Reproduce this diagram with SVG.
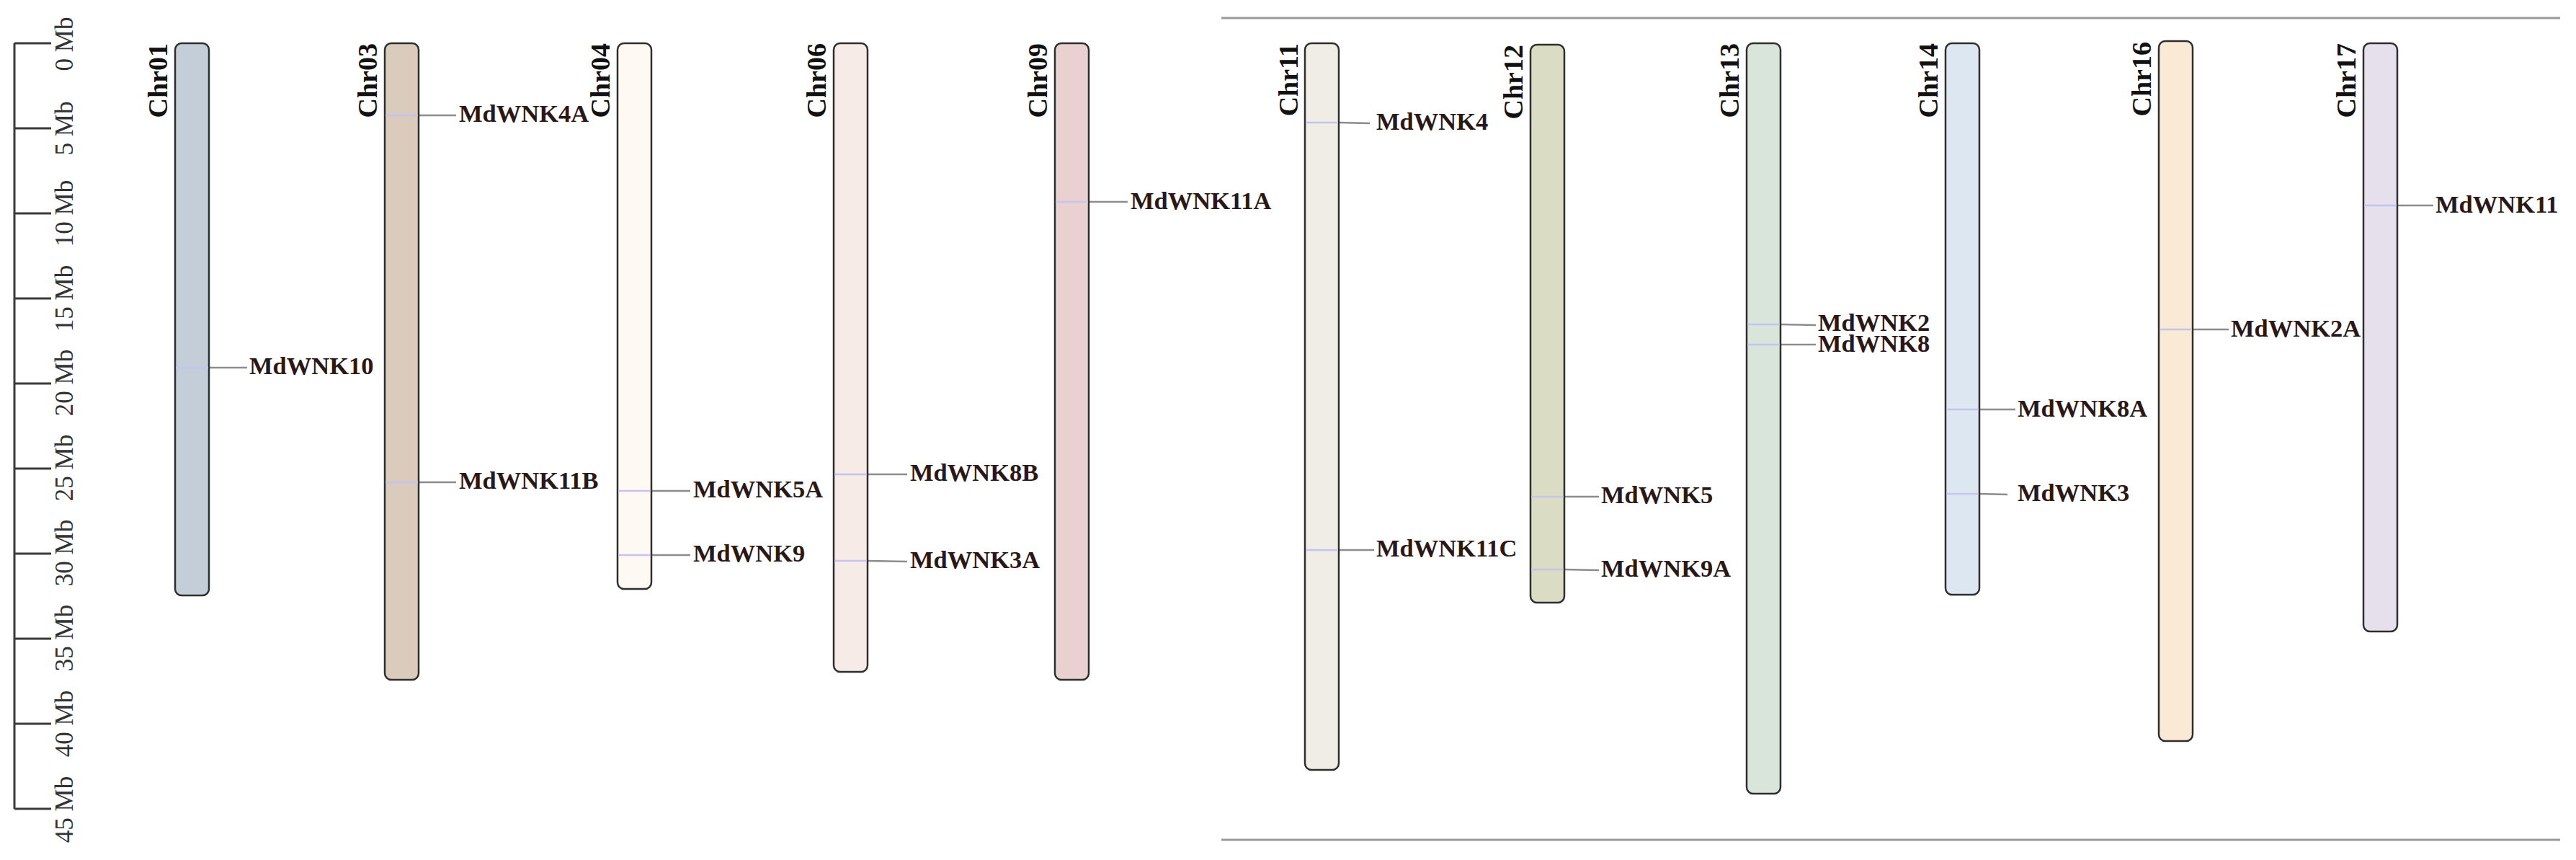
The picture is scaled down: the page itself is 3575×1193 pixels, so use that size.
<svg xmlns="http://www.w3.org/2000/svg" width="3575" height="1193" viewBox="0 0 3575 1193">
<style>
.chr{stroke:#2e2e2e;stroke-width:2.5}
.mk{stroke:#c4c4ee;stroke-width:2.5}
.cn{stroke:#8c8c8c;stroke-width:2.5;fill:none}
.gl{font-family:"Liberation Serif","Times New Roman",serif;font-weight:bold;font-size:34.5px;fill:#2a1818}
.cl{font-family:"Liberation Serif","Times New Roman",serif;font-weight:bold;font-size:38px;fill:#111;text-anchor:end}
.rl{font-family:"Liberation Serif","Times New Roman",serif;font-size:35px;fill:#333;text-anchor:middle}
.rk{stroke:#3a3a3a;stroke-width:3;fill:none}
.sep{stroke:#9a9a9a;stroke-width:3}
</style>
<rect width="3575" height="1193" fill="#fff"/>
<g id="separators">
<line class="sep" x1="1695" y1="25" x2="3553" y2="25"/>
<line class="sep" x1="1695" y1="1165" x2="3553" y2="1165"/>
</g>
<g id="ruler">
<path class="rk" d="M20,60 V1122 M20,60 H71 M20,178 H71 M20,296 H71 M20,414 H71 M20,532 H71 M20,650 H71 M20,768 H71 M20,886 H71 M20,1004 H71 M20,1122 H71"/>
<text class="rl" transform="translate(101,61) rotate(-90)">0 Mb</text>
<text class="rl" transform="translate(101,178) rotate(-90)">5 Mb</text>
<text class="rl" transform="translate(101,296) rotate(-90)">10 Mb</text>
<text class="rl" transform="translate(101,414) rotate(-90)">15 Mb</text>
<text class="rl" transform="translate(101,531) rotate(-90)">20 Mb</text>
<text class="rl" transform="translate(101,649) rotate(-90)">25 Mb</text>
<text class="rl" transform="translate(101,767) rotate(-90)">30 Mb</text>
<text class="rl" transform="translate(101,885) rotate(-90)">35 Mb</text>
<text class="rl" transform="translate(101,1004) rotate(-90)">40 Mb</text>
<text class="rl" transform="translate(101,1123) rotate(-90)">45 Mb</text>
</g>
<g id="connectors">
<line class="cn" x1="290" y1="510" x2="343" y2="510"/>
<line class="cn" x1="581" y1="160" x2="633" y2="160"/>
<line class="cn" x1="581" y1="669" x2="633" y2="669"/>
<line class="cn" x1="904" y1="681" x2="958" y2="681"/>
<line class="cn" x1="904" y1="770" x2="958" y2="770"/>
<line class="cn" x1="1204" y1="658" x2="1259" y2="658"/>
<line class="cn" x1="1204" y1="778" x2="1259" y2="779"/>
<line class="cn" x1="1511" y1="280" x2="1565" y2="280"/>
<line class="cn" x1="1858" y1="170" x2="1901" y2="171"/>
<line class="cn" x1="1858" y1="763" x2="1907" y2="763"/>
<line class="cn" x1="2171" y1="689" x2="2219" y2="689"/>
<line class="cn" x1="2171" y1="790" x2="2219" y2="791"/>
<line class="cn" x1="2471" y1="450" x2="2520" y2="451"/>
<line class="cn" x1="2471" y1="478" x2="2520" y2="478"/>
<line class="cn" x1="2747" y1="568" x2="2797" y2="568"/>
<line class="cn" x1="2747" y1="685" x2="2786" y2="686"/>
<line class="cn" x1="3043" y1="457" x2="3093" y2="457"/>
<line class="cn" x1="3328" y1="285" x2="3377" y2="285"/>
</g>
<g id="chr01">
<rect class="chr" x="243" y="60" width="47" height="766" rx="9" fill="#c4ced9"/>
<line class="mk" x1="244" y1="510" x2="289" y2="510"/>
<text class="cl" transform="translate(232,60) rotate(-90)">Chr01</text>
<text class="gl" x="346" y="519">MdWNK10</text>
</g>
<g id="chr03">
<rect class="chr" x="534" y="60" width="47" height="883" rx="9" fill="#dacbbd"/>
<line class="mk" x1="535" y1="160" x2="580" y2="160"/>
<line class="mk" x1="535" y1="669" x2="580" y2="669"/>
<text class="cl" transform="translate(523,60) rotate(-90)">Chr03</text>
<text class="gl" x="637" y="169">MdWNK4A</text>
<text class="gl" x="637" y="678">MdWNK11B</text>
</g>
<g id="chr04">
<rect class="chr" x="857" y="60" width="47" height="757" rx="9" fill="#fefaf3"/>
<line class="mk" x1="858" y1="681" x2="903" y2="681"/>
<line class="mk" x1="858" y1="770" x2="903" y2="770"/>
<text class="cl" transform="translate(846,60) rotate(-90)">Chr04</text>
<text class="gl" x="962" y="690">MdWNK5A</text>
<text class="gl" x="962" y="779">MdWNK9</text>
</g>
<g id="chr06">
<rect class="chr" x="1157" y="60" width="47" height="872" rx="9" fill="#f7ebe7"/>
<line class="mk" x1="1158" y1="658" x2="1203" y2="658"/>
<line class="mk" x1="1158" y1="778" x2="1203" y2="778"/>
<text class="cl" transform="translate(1146,60) rotate(-90)">Chr06</text>
<text class="gl" x="1263" y="667">MdWNK8B</text>
<text class="gl" x="1263" y="788">MdWNK3A</text>
</g>
<g id="chr09">
<rect class="chr" x="1464" y="60" width="47" height="883" rx="9" fill="#e9d0d1"/>
<line class="mk" x1="1465" y1="280" x2="1510" y2="280"/>
<text class="cl" transform="translate(1453,60) rotate(-90)">Chr09</text>
<text class="gl" x="1569" y="290">MdWNK11A</text>
</g>
<g id="chr11">
<rect class="chr" x="1811" y="60" width="47" height="1008" rx="9" fill="#f0ece6"/>
<line class="mk" x1="1812" y1="170" x2="1857" y2="170"/>
<line class="mk" x1="1812" y1="763" x2="1857" y2="763"/>
<text class="cl" transform="translate(1801,60) rotate(-90)">Chr11</text>
<text class="gl" x="1910" y="180">MdWNK4</text>
<text class="gl" x="1910" y="772">MdWNK11C</text>
</g>
<g id="chr12">
<rect class="chr" x="2124" y="62" width="47" height="774" rx="9" fill="#dadcc4"/>
<line class="mk" x1="2125" y1="689" x2="2170" y2="689"/>
<line class="mk" x1="2125" y1="790" x2="2170" y2="790"/>
<text class="cl" transform="translate(2113,62) rotate(-90)">Chr12</text>
<text class="gl" x="2222" y="698">MdWNK5</text>
<text class="gl" x="2222" y="800">MdWNK9A</text>
</g>
<g id="chr13">
<rect class="chr" x="2424" y="60" width="47" height="1041" rx="9" fill="#d9e4da"/>
<line class="mk" x1="2425" y1="450" x2="2470" y2="450"/>
<line class="mk" x1="2425" y1="478" x2="2470" y2="478"/>
<text class="cl" transform="translate(2413,60) rotate(-90)">Chr13</text>
<text class="gl" x="2523" y="459">MdWNK2</text>
<text class="gl" x="2523" y="488">MdWNK8</text>
</g>
<g id="chr14">
<rect class="chr" x="2700" y="60" width="47" height="765" rx="9" fill="#dce7f1"/>
<line class="mk" x1="2701" y1="568" x2="2746" y2="568"/>
<line class="mk" x1="2701" y1="685" x2="2746" y2="685"/>
<text class="cl" transform="translate(2689,60) rotate(-90)">Chr14</text>
<text class="gl" x="2800" y="578">MdWNK8A</text>
<text class="gl" x="2800" y="695">MdWNK3</text>
</g>
<g id="chr16">
<rect class="chr" x="2996" y="57" width="47" height="971" rx="9" fill="#faead5"/>
<line class="mk" x1="2997" y1="457" x2="3042" y2="457"/>
<text class="cl" transform="translate(2985,58) rotate(-90)">Chr16</text>
<text class="gl" x="3096" y="467">MdWNK2A</text>
</g>
<g id="chr17">
<rect class="chr" x="3280" y="60" width="47" height="816" rx="9" fill="#e6e0ed"/>
<line class="mk" x1="3281" y1="285" x2="3326" y2="285"/>
<text class="cl" transform="translate(3269,60) rotate(-90)">Chr17</text>
<text class="gl" x="3380" y="295">MdWNK11</text>
</g>
</svg>
